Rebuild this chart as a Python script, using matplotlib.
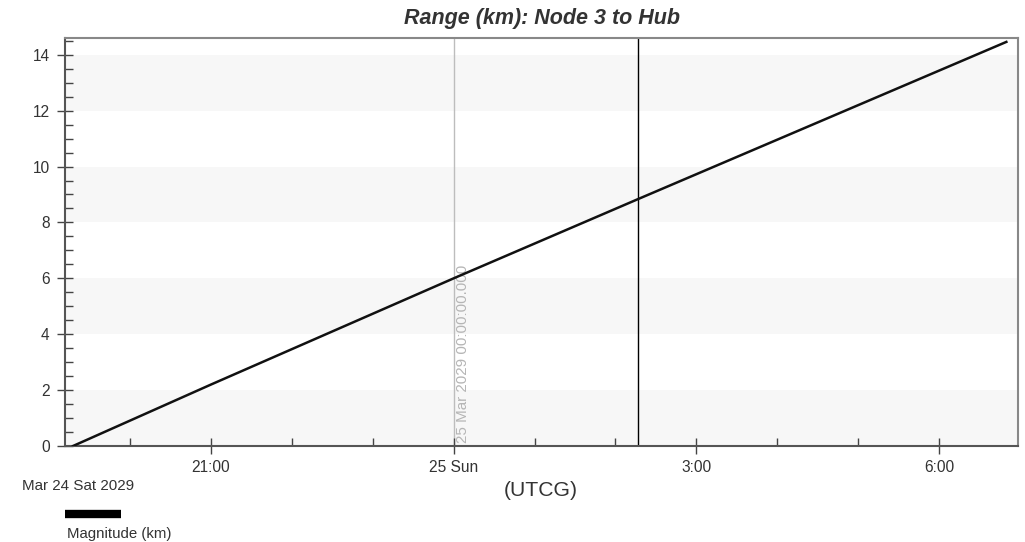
import matplotlib
matplotlib.use("Agg")
import matplotlib.pyplot as plt
import matplotlib.dates as mdates
from matplotlib.lines import Line2D
from matplotlib.ticker import MultipleLocator
import numpy as np
from datetime import datetime

plt.rcParams['font.family'] = ['Liberation Sans', 'DejaVu Sans']

# range samples (UTCG)
times = ['2029-03-24 19:17:36', '2029-03-24 21:00:00', '2029-03-25 00:00:00',
         '2029-03-25 02:17:00', '2029-03-25 06:50:00']
range_km = [0.0, 2.2, 6.0, 8.84, 14.46]

x_min = '2029-03-24 19:11:40'
x_max = '2029-03-25 06:58:40'
y_min, y_max = 0, 14.6

epoch_mark = '2029-03-25 00:00:00'
epoch_label = '25 Mar 2029 00:00:00.000'
cursor_time = '2029-03-25 02:17:00'

tick_times = ['2029-03-24 21:00', '2029-03-25 00:00', '2029-03-25 03:00', '2029-03-25 06:00']
tick_labels = ['21:00', '25 Sun', '3:00', '6:00']

to_dt = lambda s: datetime.fromisoformat(s)
t = [to_dt(s) for s in times]

fig = plt.figure(figsize=(10.25, 5.42), dpi=100)
ax = fig.add_axes([0.0634, 0.1771, 0.9298, 0.7528])

# alternating bands
for lo in range(0, 14, 4):
    ax.axhspan(lo, lo + 2, color='#f7f7f7', zorder=0, lw=0)

ax.axvline(to_dt(epoch_mark), color='#bdbdbd', lw=1, zorder=1)
ax.text(to_dt(epoch_mark), 0.12, epoch_label, rotation=90, color='#b5b5b5',
        fontsize=10.9, ha='left', va='bottom', zorder=1,
        transform=ax.transData + matplotlib.transforms.ScaledTranslation(2/100, 0, fig.dpi_scale_trans))
ax.axvline(to_dt(cursor_time), color='black', lw=1, zorder=2)

ax.plot(t, range_km, color='#111111', lw=1.8, zorder=3)

ax.set_xlim(to_dt(x_min), to_dt(x_max))
ax.set_ylim(y_min, y_max)

ax.set_xticks([mdates.date2num(to_dt(s)) for s in tick_times])
ax.set_xticklabels(tick_labels)
ax.xaxis.set_minor_locator(mdates.HourLocator())
ax.yaxis.set_major_locator(MultipleLocator(2))
ax.yaxis.set_minor_locator(MultipleLocator(0.5))

ax.tick_params(which='major', direction='inout', length=12, width=1, colors='#444444',
               labelcolor='#333333', labelsize=11.2)
ax.tick_params(axis='x', which='major', pad=4)
ax.tick_params(axis='y', which='major', pad=5)
ax.tick_params(which='minor', direction='in', length=6, width=1, colors='#444444')

for side in ['left', 'bottom']:
    ax.spines[side].set_color('#555555')
    ax.spines[side].set_linewidth(1.5)
for side in ['top', 'right']:
    ax.spines[side].set_color('#888888')
    ax.spines[side].set_linewidth(1.5)

ax.set_title('Range (km): Node 3 to Hub', fontsize=15.5, fontweight='bold',
             fontstyle='italic', color='#333333', pad=10)

fig.text(22/1025, 1 - 486/542, 'Mar 24 Sat 2029', fontsize=10.9, color='#333333',
         ha='left', va='center')
fig.text(541/1025, 1 - 490/542, '(UTCG)', fontsize=15.2, color='#333333',
         ha='center', va='center')

# legend: thick bar with label under it
fig.add_artist(Line2D([65/1025, 121/1025], [1 - 514/542] * 2, color='black', lw=6,
                      solid_capstyle='butt'))
fig.text(67/1025, 1 - 534/542, 'Magnitude (km)', fontsize=10.8, color='#333333',
         ha='left', va='center')

fig.savefig('out.png', dpi=100)
